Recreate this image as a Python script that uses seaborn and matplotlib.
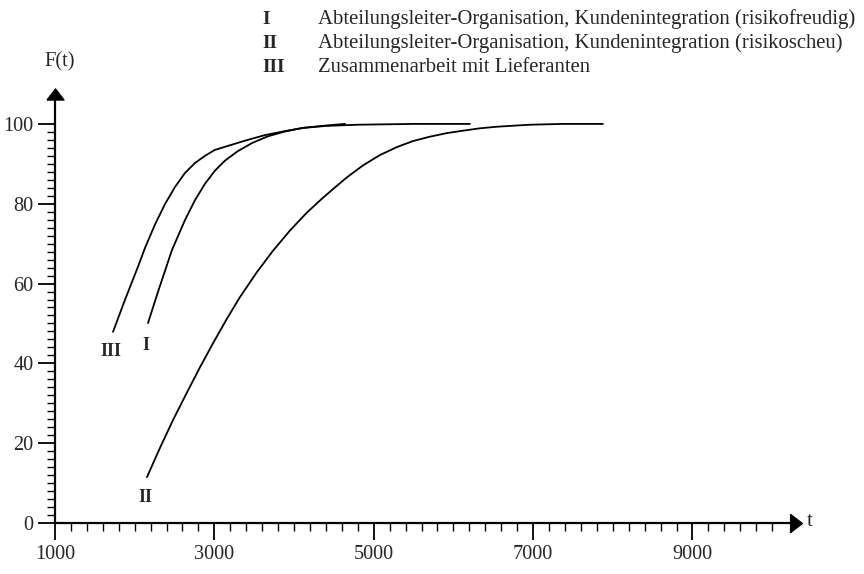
import numpy as np
import pandas as pd
import matplotlib
matplotlib.use("Agg")
import matplotlib.pyplot as plt
import seaborn as sns
from matplotlib.ticker import FixedLocator

# ---- data ----
t_I = [2167, 2292, 2468, 2631, 2757, 2882, 3008, 3133, 3296, 3472, 3672, 3886,
       4112, 4400, 4800, 5500, 6207]
F_I = [50.1, 57.9, 68.4, 75.9, 80.9, 85.0, 88.3, 90.8, 93.2, 95.2, 96.9, 98.1,
       99.0, 99.5, 99.8, 100.0, 100.0]

t_II = [2154, 2317, 2481, 2656, 2819, 2982, 3158, 3321, 3535, 3735, 3949, 4162,
        4363, 4538, 4663, 4865, 5078, 5291, 5492, 5705, 5918, 6119, 6333, 6546,
        6960, 7374, 7876]
F_II = [11.5, 18.8, 25.8, 32.7, 39.0, 45.0, 51.2, 56.6, 62.9, 68.2, 73.3, 77.8,
        81.5, 84.5, 86.6, 89.6, 92.2, 94.2, 95.7, 96.8, 97.7, 98.3, 98.9, 99.3,
        99.8, 100.0, 100.0]

t_III = [1728, 1878, 2041, 2129, 2255, 2380, 2506, 2631, 2757, 2882, 3008, 3171,
         3384, 3635, 3886, 4112, 4400, 4640]
F_III = [47.9, 55.9, 64.2, 68.9, 74.8, 79.9, 84.2, 87.7, 90.2, 92.0, 93.5, 94.5,
         95.8, 97.2, 98.2, 99.0, 99.6, 100.0]

curve_labels = ["I", "II", "III"]
legend_texts = [
    "Abteilungsleiter-Organisation, Kundenintegration (risikofreudig)",
    "Abteilungsleiter-Organisation, Kundenintegration (risikoscheu)",
    "Zusammenarbeit mit Lieferanten",
]
x_major = [1000, 3000, 5000, 7000, 9000]
y_major = [0, 20, 40, 60, 80, 100]

df = pd.concat([
    pd.DataFrame({"t": t_I, "F": F_I, "curve": "I"}),
    pd.DataFrame({"t": t_II, "F": F_II, "curve": "II"}),
    pd.DataFrame({"t": t_III, "F": F_III, "curve": "III"}),
])

sns.set_style("white")
plt.rcParams["font.family"] = ["Liberation Serif", "DejaVu Serif"]

W, H = 864, 574
fig = plt.figure(figsize=(W / 100, H / 100), dpi=100)
left_px, right_px, bottom_px, top_px = 55, 804, 523, 88
ax = fig.add_axes([left_px / W, (H - bottom_px) / H,
                   (right_px - left_px) / W, (bottom_px - top_px) / H])

sns.lineplot(data=df, x="t", y="F", hue="curve", palette=["black"] * 3,
             legend=False, ax=ax, linewidth=1.3, estimator=None, sort=True)

ax.set_xlim(1000, 10400)
ax.set_ylim(0, 109)
for s in ["top", "right"]:
    ax.spines[s].set_visible(False)
for s in ["left", "bottom"]:
    ax.spines[s].set_linewidth(1.6)
    ax.spines[s].set_color("black")
ax.spines["left"].set_bounds(0, 106)
ax.spines["bottom"].set_bounds(1000, 10240)

ax.xaxis.set_major_locator(FixedLocator(x_major))
ax.yaxis.set_major_locator(FixedLocator(y_major))
ax.xaxis.set_minor_locator(FixedLocator(np.arange(1000, 10001, 200)))
ax.yaxis.set_minor_locator(FixedLocator(np.arange(0, 101, 2)))
ax.tick_params(axis="both", which="both", bottom=True, left=True,
               top=False, right=False)
ax.tick_params(axis="both", which="major", direction="out", length=12.5,
               width=1.3, color="black", labelsize=14.6, pad=3)
ax.tick_params(axis="both", which="minor", direction="out", length=6,
               width=1.0, color="black")
ax.set_xlabel("")
ax.set_ylabel("")

# arrows
up_tri = [(-1, -0.65), (1, -0.65), (0, 0.65), (-1, -0.65)]
right_tri = [(-0.65, -1), (-0.65, 1), (0.65, 0), (-0.65, -1)]
ax.plot([1000], [107.6], marker=up_tri, color="black", markersize=12.2,
        linestyle="none", clip_on=False)
ax.plot([10304], [0], marker=right_tri, color="black", markersize=13,
        linestyle="none", clip_on=False)
ax.text(10473, 0.5, "t", fontsize=15, va="center", ha="center")
fig.text(60 / W, 1 - 62 / H, "F(t)", fontsize=14.8, ha="center", va="center")

# curve labels
ax.text(1696, 42.9, "III", fontsize=13, ha="center", va="center", fontweight="bold")
ax.text(2135, 44.6, "I", fontsize=13, ha="center", va="center", fontweight="bold")
ax.text(2129, 6.5, "II", fontsize=13, ha="center", va="center", fontweight="bold")

# legend as text
for i, (lab, txt) in enumerate(zip(curve_labels, legend_texts)):
    y = 1 - (19 + 24 * i) / H
    fig.text(262 / W, y, lab, fontsize=14, ha="left", va="center", fontweight="bold")
    fig.text(318 / W, y, txt, fontsize=14.95, ha="left", va="center")

fig.savefig("out.png", dpi=100)
